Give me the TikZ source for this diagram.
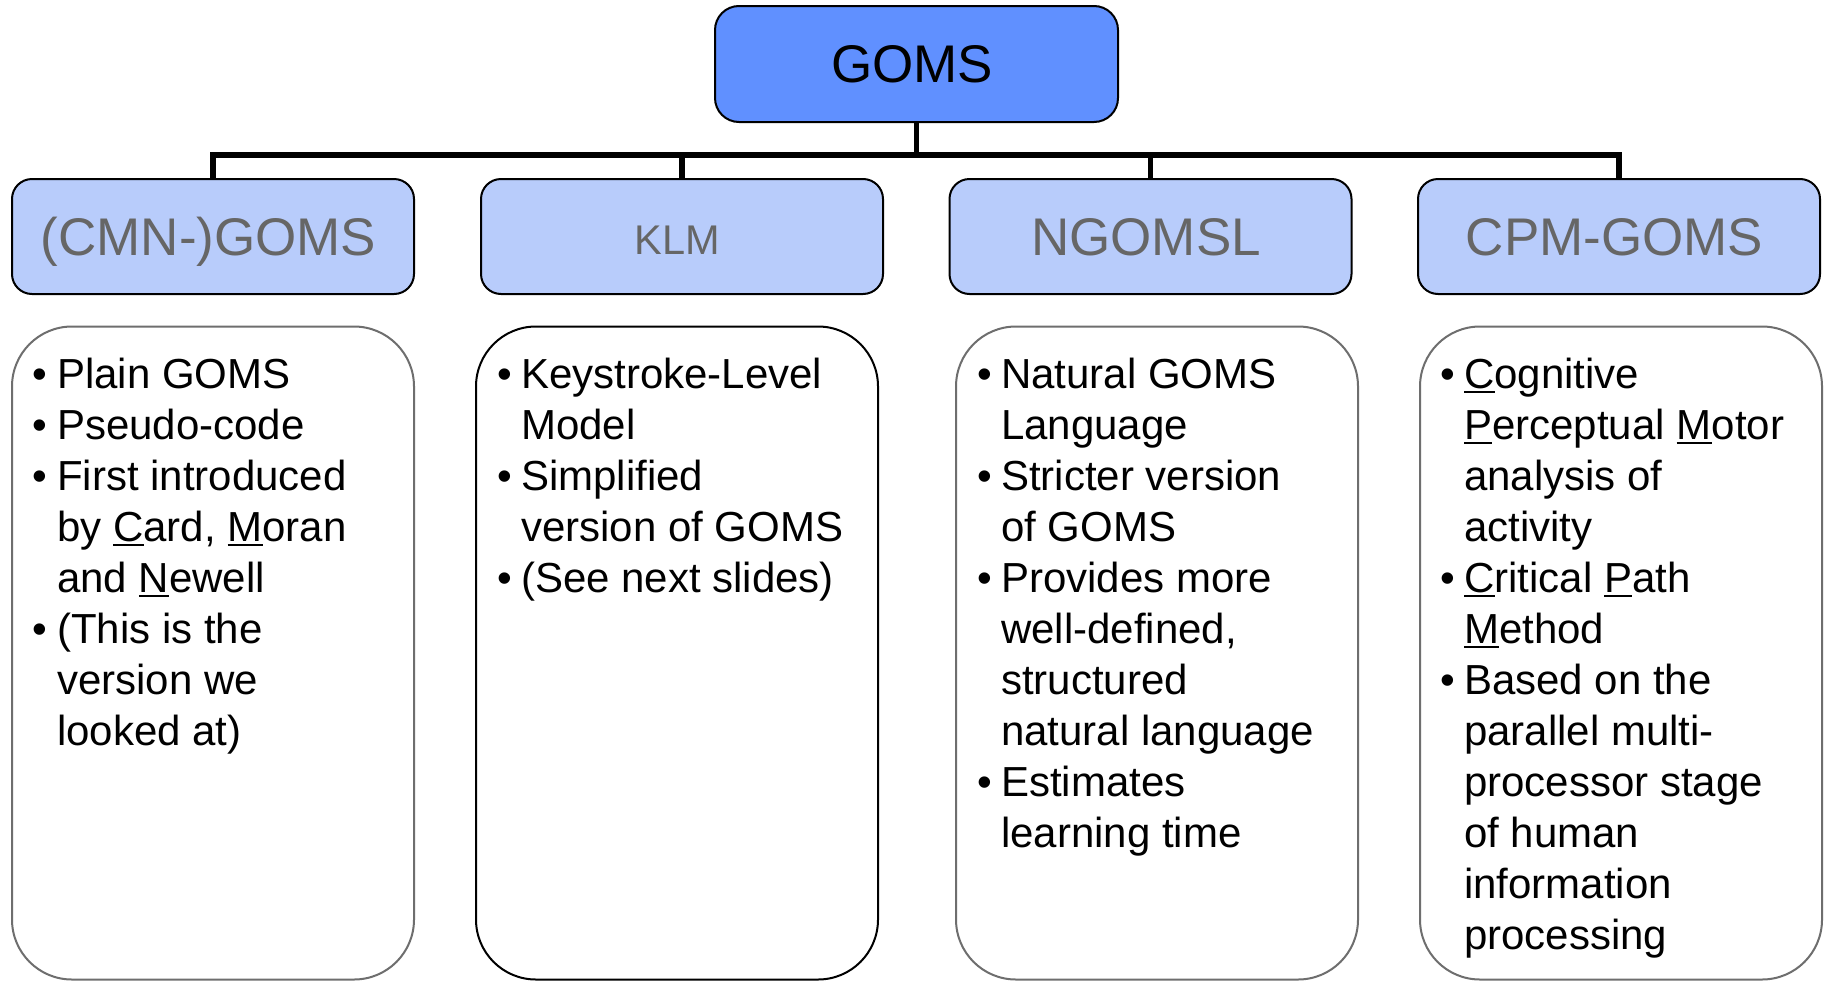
\documentclass[tikz,border=0pt]{standalone}
\usepackage{fontspec}
\setmainfont{Liberation Sans}
\definecolor{rootfill}{RGB}{96,144,255}
\definecolor{subfill}{RGB}{184,204,251}
\definecolor{subtext}{RGB}{102,102,102}
\definecolor{bodyline}{RGB}{110,110,110}
\newsavebox\ulbox
\newcommand{\uletter}[1]{\leavevmode\sbox\ulbox{#1}\rlap{\rule[-5pt]{\wd\ulbox}{2pt}}#1}
\newcommand{\itm}{\leavevmode\llap{\textbullet\hspace{9.5pt}}}
\newcommand{\bodytext}[1]{\parbox[t]{380pt}{\raggedright\fontsize{42pt}{51pt}\selectfont #1}}
% titles sit slightly left of their box centre
\newcommand{\ttl}[1]{\hspace*{-9pt}#1}
\tikzset{
  rootbox/.style={draw=black, line width=2pt, fill=rootfill, rounded corners=24pt,
    minimum width=403pt, minimum height=116pt, inner sep=0pt,
    text height=36pt, text depth=0pt,
    font=\fontsize{53pt}{60pt}\selectfont},
  subbox/.style={draw=black, line width=2pt, fill=subfill, rounded corners=20pt,
    minimum width=402pt, minimum height=115pt, inner sep=0pt, text=subtext,
    text height=37pt, text depth=0pt,
    font=\fontsize{53pt}{60pt}\selectfont},
  bodybox/.style={draw=bodyline, line width=2pt, fill=white, rounded corners=60pt,
    minimum width=402pt, minimum height=653pt, inner sep=0pt},
  bodylabel/.style={anchor=base west, inner sep=0pt},
  conn/.style={line width=5.5pt, black}
}
\begin{document}
\begin{tikzpicture}[x=1pt, y=-1pt]
\useasboundingbox (0,0) rectangle (1827,980);
\fill[white] (0,0) rectangle (1827,980);

% root and category boxes
\node[rootbox] (root) at (916.5,64) {\ttl{GOMS}};
\node[subbox] (cmn) at (213,236.5) {\ttl{(CMN-)GOMS}};
\node[subbox, font=\fontsize{41.5pt}{50pt}\selectfont, text height=35pt] (klm) at (682,236.5) {\ttl{KLM}};
\node[subbox] (ngomsl) at (1150.5,236.5) {\ttl{NGOMSL}};
\node[subbox] (cpm) at (1619,236.5) {\ttl{CPM-GOMS}};

% tree connectors
\coordinate (bus) at (916.5,155);
\draw[conn] (root.south) -- (bus);
\draw[conn] (cmn.north) |- (bus -| cpm.north) -- (cpm.north);
\draw[conn] (klm.north) -- (klm.north |- bus);
\draw[conn] (ngomsl.north) -- (ngomsl.north |- bus);

% description boxes
\node[bodybox] (cmnbody) at (213,653) {};
\node[bodybox, draw=black] (klmbody) at (677,653) {};
\node[bodybox] (ngomslbody) at (1157,653) {};
\node[bodybox] (cpmbody) at (1621,653) {};

\node[bodylabel] (cmntext) at (57,388) {\bodytext{%
\itm Plain GOMS\\
\itm Pseudo-code\\
\itm First introduced\\
by \uletter{C}ard, \uletter{M}oran\\
and \uletter{N}ewell\\
\itm (This is the\\
version we\\
looked at)}};

\node[bodylabel] (klmtext) at (521,388) {\bodytext{%
\itm Keystroke-Level\\
Model\\
\itm Simplified\\
version of GOMS\\
\itm (See next slides)}};

\node[bodylabel] (ngomsltext) at (1001,388) {\bodytext{%
\itm Natural GOMS\\
Language\\
\itm Stricter version\\
of GOMS\\
\itm Provides more\\
well-defined,\\
structured\\
natural language\\
\itm Estimates\\
learning time}};

\node[bodylabel] (cpmtext) at (1464,388) {\bodytext{%
\itm \uletter{C}ognitive\\
\uletter{P}erceptual \uletter{M}otor\\
analysis of\\
activity\\
\itm \uletter{C}ritical \uletter{P}ath\\
\uletter{M}ethod\\
\itm Based on the\\
parallel multi-\\
processor stage\\
of human\\
information\\
processing}};
\end{tikzpicture}
\end{document}
